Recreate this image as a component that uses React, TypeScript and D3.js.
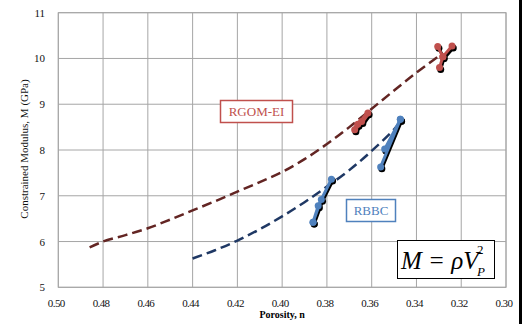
import React from "react";
import * as d3 from "d3";

const xTicks = [0.5, 0.48, 0.46, 0.44, 0.42, 0.4, 0.38, 0.36, 0.34, 0.32, 0.3];
const yTicks = [5, 6, 7, 8, 9, 10, 11];

// RGOM-EI fitted curve (porosity, M)
const rgomCurveN = [0.486, 0.48, 0.47, 0.46, 0.45, 0.44, 0.43, 0.42, 0.41, 0.40, 0.39, 0.38, 0.37, 0.36, 0.35, 0.34, 0.33];
const rgomCurveM = [5.87, 6.0, 6.14, 6.29, 6.48, 6.68, 6.88, 7.09, 7.3, 7.52, 7.8, 8.13, 8.5, 8.9, 9.3, 9.69, 10.05];
// RBBC fitted curve
const rbbcCurveN = [0.44, 0.43, 0.42, 0.41, 0.40, 0.39, 0.38, 0.37, 0.36, 0.35, 0.3475];
const rbbcCurveM = [5.63, 5.81, 6.02, 6.27, 6.55, 6.86, 7.2, 7.56, 7.98, 8.45, 8.6];

// measured data (grouped)
const rgomGroup1N = [0.3676, 0.3662, 0.3645, 0.3617];
const rgomGroup1M = [8.44, 8.56, 8.62, 8.81];
const rgomGroup2N = [0.3305, 0.3282, 0.3297, 0.3282, 0.3241];
const rgomGroup2M = [10.26, 10.04, 9.8, 10.04, 10.27];
const rbbcGroup1N = [0.3862, 0.3839, 0.378, 0.3825, 0.3862];
const rbbcGroup1M = [6.42, 6.78, 7.36, 6.92, 6.42];
const rbbcGroup2N = [0.356, 0.3472, 0.3542, 0.3472];
const rbbcGroup2M = [7.63, 8.67, 8.02, 8.67];

const W = 527;
const H = 324;
const L = 58.3, R = 506, T = 12.7, B = 287.3;

export default function App() {
  const x = d3.scaleLinear().domain([0.5, 0.3]).range([L, R]);
  const y = d3.scaleLinear().domain([5, 11]).range([B, T]);
  const line = d3.line<[number, number]>().x(d => x(d[0])).y(d => y(d[1])).curve(d3.curveCatmullRom);
  const straight = d3.line<[number, number]>().x(d => x(d[0])).y(d => y(d[1]));
  const zip = (a: number[], b: number[]) => a.map((v, i) => [v, b[i]] as [number, number]);

  const rgomCurve = zip(rgomCurveN, rgomCurveM);
  const rbbcCurve = zip(rbbcCurveN, rbbcCurveM);
  const groups = [
    { pts: zip(rgomGroup1N, rgomGroup1M), color: "#c0504d", w: 5 },
    { pts: zip(rgomGroup2N, rgomGroup2M), color: "#c0504d", w: 3 },
    { pts: zip(rbbcGroup1N, rbbcGroup1M), color: "#4f81bd", w: 3 },
    { pts: zip(rbbcGroup2N, rbbcGroup2M), color: "#4f81bd", w: 3 },
  ];
  const serif = "'Liberation Serif', 'Times New Roman', serif";

  return (
    <div style={{ position: "absolute", left: 0, top: 0 }}>
      <svg width={W} height={H} style={{ display: "block", background: "#fff" }}>
        {xTicks.map(t => (
          <line key={"gx" + t} x1={x(t)} x2={x(t)} y1={T} y2={B} stroke="#a6a6a6" strokeWidth={1} />
        ))}
        {yTicks.map(t => (
          <line key={"gy" + t} x1={L} x2={R} y1={y(t)} y2={y(t)} stroke="#a6a6a6" strokeWidth={1} />
        ))}
        <rect x={L} y={T} width={R - L} height={B - T} fill="none" stroke="#a6a6a6" />
        {yTicks.map(t => (
          <text key={"ty" + t} x={45} y={y(t) + 4} textAnchor="end" fontFamily={serif} fontSize={11} fill="#111">{t}</text>
        ))}
        {xTicks.map(t => (
          <text key={"tx" + t} x={x(t) - 2} y={307} textAnchor="middle" fontFamily={serif} fontSize={11} letterSpacing={-0.6} fill="#111">{t.toFixed(2)}</text>
        ))}
        <text x={(L + R) / 2} y={318} textAnchor="middle" fontFamily={serif} fontSize={10} fontWeight="bold">Porosity, n</text>
        <text transform={`translate(28,${149}) rotate(-90)`} textAnchor="middle" fontFamily={serif} fontSize={11} fill="#111">Constrained Modulus, M (GPa)</text>

        <path d={line(rgomCurve) || ""} fill="none" stroke="#632523" strokeWidth={2.5} strokeDasharray="10,5" />
        <path d={line(rbbcCurve) || ""} fill="none" stroke="#1f3864" strokeWidth={2.5} strokeDasharray="10,5" />

        {groups.map((g, i) => (
          <g key={"s" + i} transform="translate(1.2,1.8)">
            <path d={straight(g.pts) || ""} fill="none" stroke="#000" strokeWidth={g.w} strokeLinejoin="round" />
            {g.pts.map((p, j) => <circle key={j} cx={x(p[0])} cy={y(p[1])} r={3.5} fill="#000" />)}
          </g>
        ))}
        {groups.map((g, i) => (
          <g key={"g" + i}>
            <path d={straight(g.pts) || ""} fill="none" stroke={g.color} strokeWidth={g.w} strokeLinejoin="round" />
            {g.pts.map((p, j) => <circle key={j} cx={x(p[0])} cy={y(p[1])} r={3.5} fill={g.color} />)}
          </g>
        ))}

        <rect x={220.5} y={100.5} width={72} height={22} fill="#fff" stroke="#c0504d" strokeWidth={1.5} />
        <text x={256.5} y={116} textAnchor="middle" fontFamily={serif} fontSize={13} fill="#c0504d">RGOM-EI</text>
        <rect x={346.5} y={199.5} width={49} height={22} fill="#fff" stroke="#4f81bd" strokeWidth={1.5} />
        <text x={371} y={215} textAnchor="middle" fontFamily={serif} fontSize={13} fill="#4f81bd">RBBC</text>

        <rect x={397.5} y={240.5} width={97} height={38} fill="#fff" stroke="#000" strokeWidth={1} />
        <text x={401} y={269} fontFamily={serif} fontSize={25} fontStyle="italic">
          M = ρV
        </text>
        <text x={477} y={254} fontFamily={serif} fontSize={13}>2</text>
        <text x={477} y={276} fontFamily={serif} fontSize={13} fontStyle="italic">P</text>

        <rect x={519} y={0} width={3} height={H} fill="#000" />
      </svg>
    </div>
  );
}
